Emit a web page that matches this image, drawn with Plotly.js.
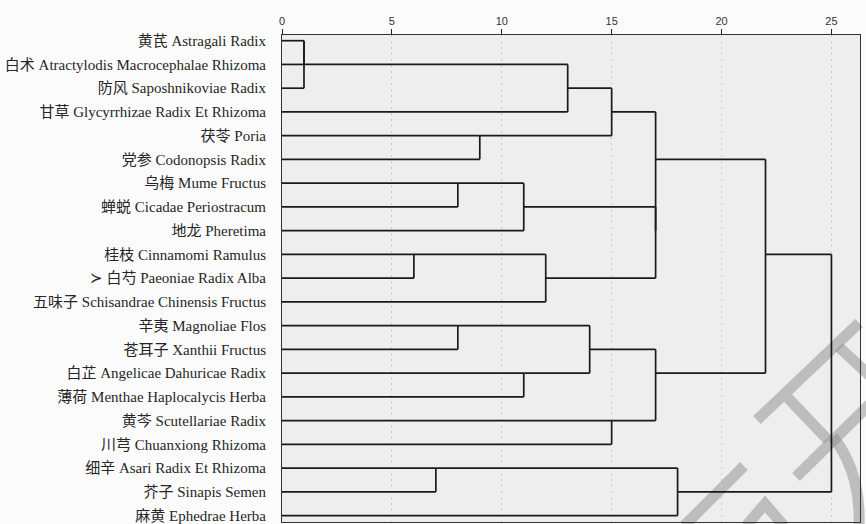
<!DOCTYPE html>
<html>
<head>
<meta charset="utf-8">
<script src="https://cdn.plot.ly/plotly-3.0.1.min.js"></script>
<style>
  html, body { margin: 0; padding: 0; background: #ffffff; }
  #chart { width: 866px; height: 524px; }
</style>
</head>
<body>
<div id="chart"></div>
<script>
// Herb names, top to bottom (leaf order of the dendrogram)
var herbs = [
  "黄芪 Astragali Radix",
  "白术 Atractylodis Macrocephalae Rhizoma",
  "防风 Saposhnikoviae Radix",
  "甘草 Glycyrrhizae Radix Et Rhizoma",
  "茯苓 Poria",
  "党参 Codonopsis Radix",
  "乌梅 Mume Fructus",
  "蝉蜕 Cicadae Periostracum",
  "地龙 Pheretima",
  "桂枝 Cinnamomi Ramulus",
  "≻ 白芍 Paeoniae Radix Alba",
  "五味子 Schisandrae Chinensis Fructus",
  "辛夷 Magnoliae Flos",
  "苍耳子 Xanthii Fructus",
  "白芷 Angelicae Dahuricae Radix",
  "薄荷 Menthae Haplocalycis Herba",
  "黄芩 Scutellariae Radix",
  "川芎 Chuanxiong Rhizoma",
  "细辛 Asari Radix Et Rhizoma",
  "芥子 Sinapis Semen",
  "麻黄 Ephedrae Herba"
];

// Agglomeration schedule: ids below herbs.length are herbs,
// id herbs.length + k is the cluster formed at step k.
var mergeLeft  = [0, 21, 22, 4, 23, 6, 26, 9, 28, 27, 25, 12, 14, 32, 16, 34, 31, 18, 38, 37];
var mergeRight = [1, 2,  3,  5, 24, 7, 8,  10, 11, 29, 30, 13, 15, 33, 17, 35, 36, 19, 20, 39];
// Rescaled distance at which each step joins
var mergeDist  = [1, 1,  13, 9, 15, 8, 11, 6,  12, 17, 17, 8,  11, 14, 15, 17, 22, 7,  18, 25];

// Distance axis ticks
var distTicks = [0, 5, 10, 15, 20, 25];

// Build the elbow segments of the tree
var n = herbs.length;
var rowOf = [], startOf = [];
for (var i = 0; i < n; i++) { rowOf.push(i); startOf.push(0); }
var lx = [], ly = [];
for (var k = 0; k < mergeDist.length; k++) {
  var a = mergeLeft[k], b = mergeRight[k], d = mergeDist[k];
  var ra = rowOf[a], rb = rowOf[b];
  // horizontal arm of each child up to the join distance
  lx.push(startOf[a], d, null); ly.push(ra, ra, null);
  lx.push(startOf[b], d, null); ly.push(rb, rb, null);
  // vertical connector
  lx.push(d, d, null); ly.push(ra, rb, null);
  rowOf.push(Math.floor((ra + rb) / 2));
  startOf.push(d);
}

var rows = herbs.map(function (_, i) { return i; });

// Plot frame in page pixels
var M = { l: 282, r: 6, t: 35, b: 2 };
var W = 866 - M.l - M.r, H = 524 - M.t - M.b;
function px(x) { return (x - M.l) / W; }
function py(y) { return (524 - M.b - y) / H; }

// Faint grey stamp drawn in the lower right corner
var stampStrokes = [
  [[859, 323], [757, 420]],
  [[839, 347], [870, 376]],
  [[788, 398], [828, 440]],
  [[796, 477], [870, 404]],
  [[744, 466], [684, 526]],
  [[746, 526], [765, 504], [784, 526]]
];
var stampColor = "rgba(140,140,140,0.5)";
var shapes = stampStrokes.map(function (pts) {
  var p = pts.map(function (q, j) {
    return (j === 0 ? "M" : "L") + px(q[0]).toFixed(4) + "," + py(q[1]).toFixed(4);
  }).join(" ");
  return { type: "path", xref: "paper", yref: "paper", path: p, layer: "below",
           line: { color: stampColor, width: 11 } };
});
shapes.push({
  type: "path", xref: "paper", yref: "paper", layer: "below",
  path: "M" + px(833).toFixed(4) + "," + py(437).toFixed(4) +
        " Q" + px(861).toFixed(4) + "," + py(472).toFixed(4) +
        " " + px(859).toFixed(4) + "," + py(526).toFixed(4),
  line: { color: stampColor, width: 11 }
});

var trace = {
  type: "scatter", mode: "lines",
  x: lx, y: ly,
  line: { color: "#1a1a1a", width: 1.7 },
  hoverinfo: "skip", showlegend: false
};

var layout = {
  width: 866, height: 524,
  margin: M,
  paper_bgcolor: "#fbfbfb",
  plot_bgcolor: "#eeeeee",
  showlegend: false,
  xaxis: {
    side: "top",
    range: [0, 26.3],
    tickvals: distTicks,
    ticktext: distTicks.map(String),
    ticks: "outside", ticklen: 5, tickwidth: 1, tickcolor: "#222",
    tickfont: { family: "Liberation Sans, Arial, sans-serif", size: 11, color: "#333" },
    showgrid: true, gridcolor: "#c9c9c9", gridwidth: 1, griddash: "2px,4px",
    showline: true, linecolor: "#333", linewidth: 1, mirror: true,
    zeroline: false
  },
  yaxis: {
    range: [20.27, -0.24],
    tickmode: "array",
    tickvals: rows,
    ticktext: herbs,
    ticks: "",
    ticklabelstandoff: 12,
    tickfont: { family: "Liberation Serif, 'Noto Sans CJK SC', serif", size: 15, color: "#262626" },
    showgrid: false,
    showline: true, linecolor: "#333", linewidth: 1, mirror: true,
    zeroline: false
  },
  shapes: shapes
};

Plotly.newPlot("chart", [trace], layout, { staticPlot: true, displayModeBar: false });
</script>
</body>
</html>
